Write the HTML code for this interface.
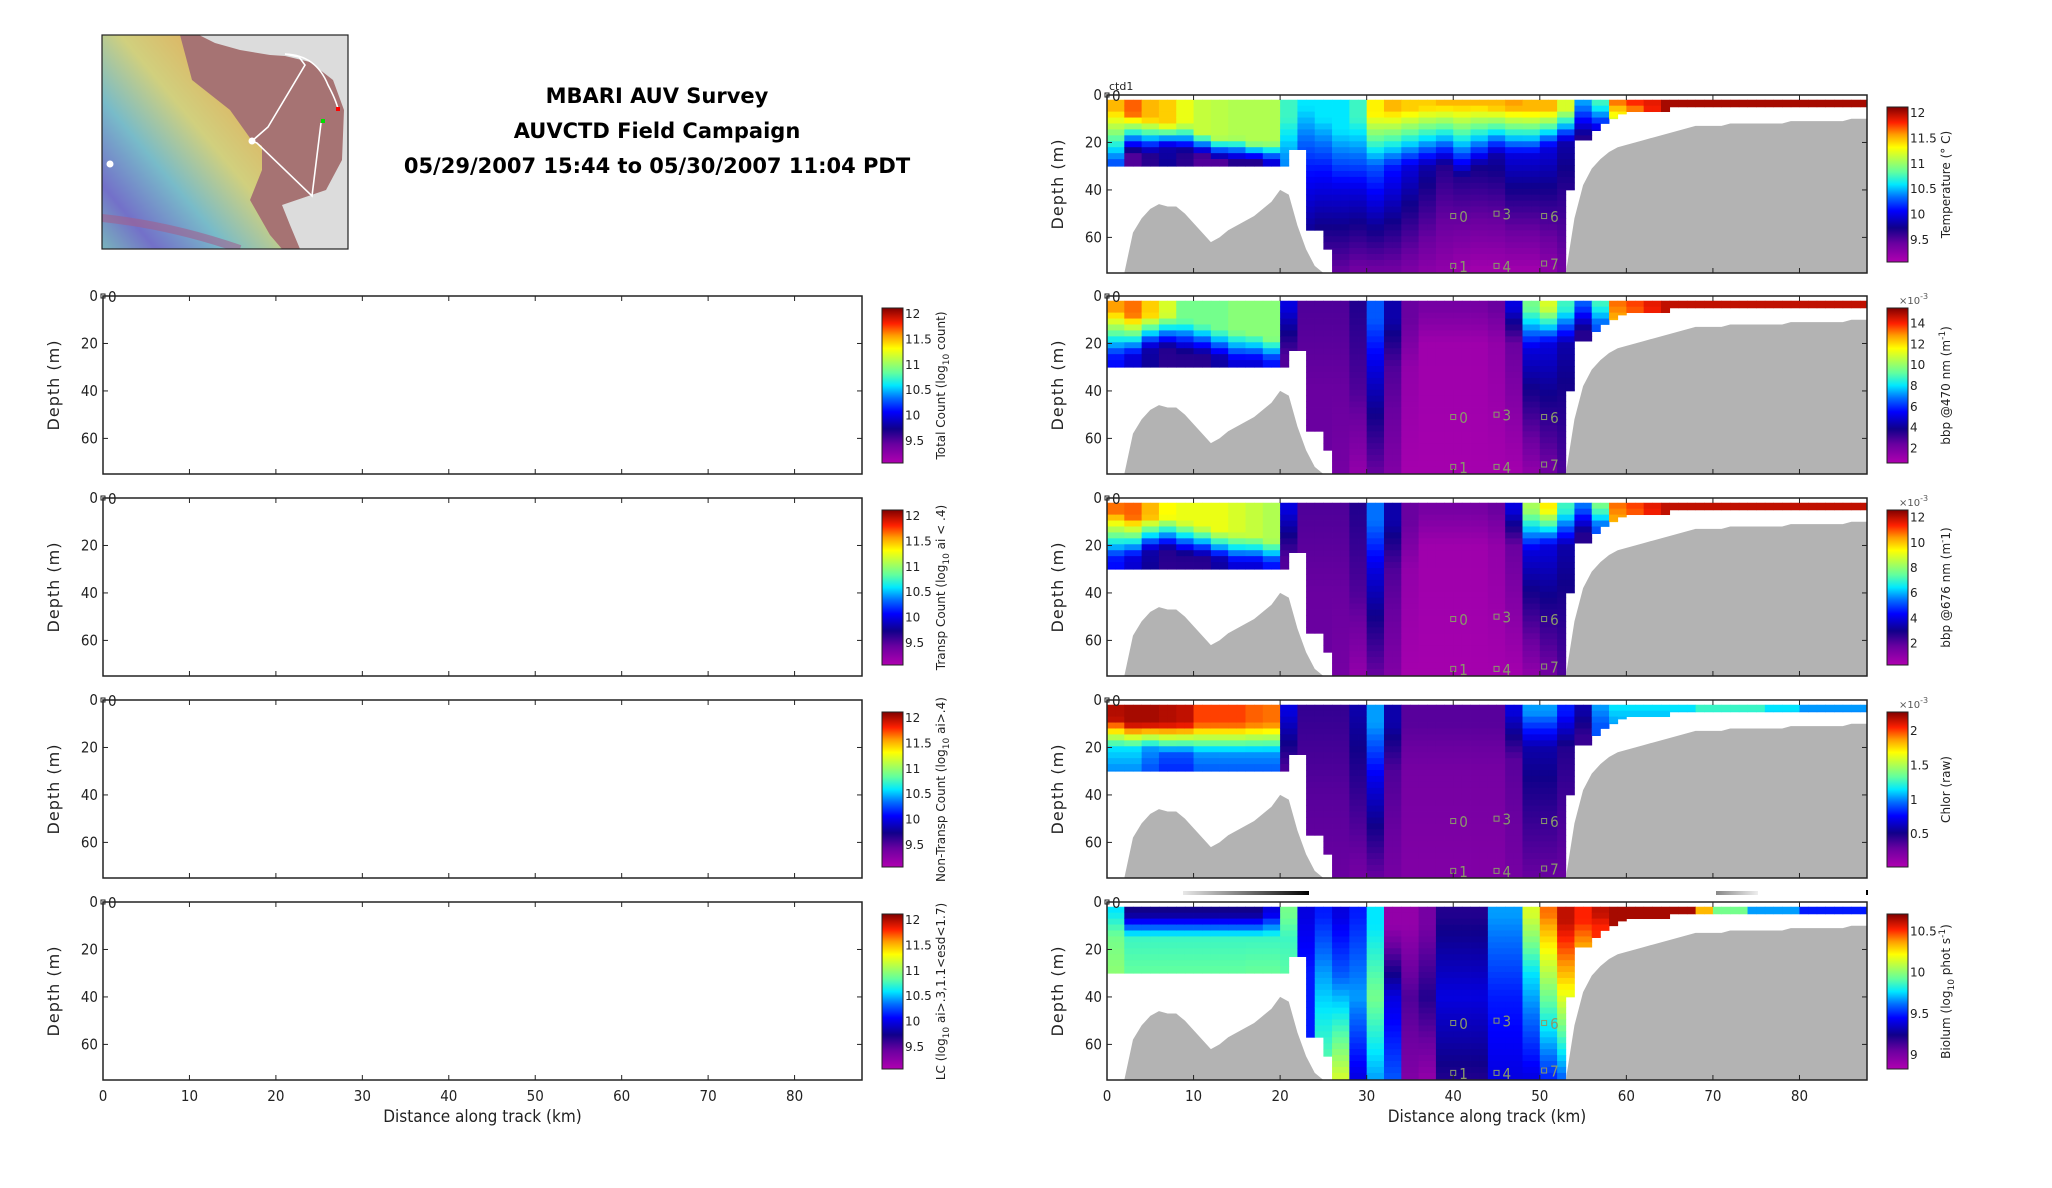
<!DOCTYPE html>
<html><head><meta charset="utf-8"><style>
body{margin:0;background:#fff}
svg{display:block}
text{font-family:"DejaVu Sans Condensed","Liberation Sans Narrow","DejaVu Sans",sans-serif;fill:#222}
.t{font-family:"DejaVu Sans","Liberation Sans",sans-serif;font-weight:bold;font-size:21px;fill:#000}
.tick{font-size:15px}
.lab{font-family:"DejaVu Sans","Liberation Sans",sans-serif;font-size:16px;letter-spacing:1px}
.cb{font-family:"DejaVu Sans","Liberation Sans",sans-serif;font-size:12px}
.cbl{font-family:"DejaVu Sans","Liberation Sans",sans-serif;font-size:12px}
</style></head><body>
<svg id="fig" width="2052" height="1188" viewBox="0 0 2052 1188" xmlns="http://www.w3.org/2000/svg">
<defs>
<linearGradient id="jetg" x1="0" y1="1" x2="0" y2="0">
<stop offset="0" stop-color="#b000b0"/><stop offset="0.12" stop-color="#6a00a0"/><stop offset="0.22" stop-color="#10008a"/><stop offset="0.33" stop-color="#0000ff"/><stop offset="0.42" stop-color="#0070ff"/><stop offset="0.5" stop-color="#00e8ff"/><stop offset="0.58" stop-color="#60ffa0"/><stop offset="0.66" stop-color="#b0ff50"/><stop offset="0.74" stop-color="#ffff00"/><stop offset="0.82" stop-color="#ffa000"/><stop offset="0.9" stop-color="#ff2000"/><stop offset="1" stop-color="#800000"/>
</linearGradient>
<linearGradient id="mapg" x1="1" y1="0" x2="0" y2="1">
<stop offset="0" stop-color="#d86a5a"/><stop offset="0.25" stop-color="#e8c060"/><stop offset="0.45" stop-color="#d8e080"/><stop offset="0.65" stop-color="#70c8d8"/><stop offset="0.85" stop-color="#6a70d8"/><stop offset="1" stop-color="#70c0c8"/>
</linearGradient>
<linearGradient id="gs1" x1="0" x2="1"><stop offset="0" stop-color="#e8e8e8"/><stop offset="1" stop-color="#000"/></linearGradient>
<linearGradient id="gs2" x1="0" x2="1"><stop offset="0" stop-color="#888"/><stop offset="1" stop-color="#eee"/></linearGradient>
<clipPath id="mapclip"><rect x="102" y="35" width="246" height="214"/></clipPath>
</defs>

<g clip-path="url(#mapclip)">
<rect x="102" y="35" width="246" height="214" fill="#a67373"/>
<polygon points="102,35 180,35 192,80 230,110 250,138 262,146 262,170 250,200 270,235 282,249 102,249" fill="url(#mapg)" opacity="0.85"/>
<path d="M102,218 Q170,225 240,249" stroke="#a06090" stroke-width="8" fill="none" opacity="0.6"/>
<polygon points="199,35 348,35 348,249 300,249 290,225 282,205 326,190 342,160 344,110 333,80 310,62 285,56 270,55 240,50 215,43" fill="#dcdcdc"/>
<polyline points="285,54 299,57 305,65 268,127 252,141 257,143 312,196 321,123" fill="none" stroke="#fff" stroke-width="1.6"/>
<path d="M285,54 Q316,55 328,85 Q336,100 338,109" fill="none" stroke="#fff" stroke-width="1.6"/>
<circle cx="252" cy="141" r="3.5" fill="#fff"/><circle cx="110" cy="164" r="3.5" fill="#fff"/>
<rect x="336" y="107" width="4" height="4" fill="#f00"/><rect x="321" y="119" width="4" height="4" fill="#0d0"/>
</g>
<rect x="102" y="35" width="246" height="214" fill="none" stroke="#222" stroke-width="1.2"/>

<text class="t" x="657" y="103" text-anchor="middle">MBARI AUV Survey</text>
<text class="t" x="657" y="138" text-anchor="middle">AUVCTD Field Campaign</text>
<text class="t" x="657" y="173" text-anchor="middle">05/29/2007 15:44 to 05/30/2007 11:04 PDT</text>
<g id="panels"></g>
</svg>
<script>
// ---- data ----
const xTicks=[0,10,20,30,40,50,60,70,80];
const yTicks=[0,20,40,60];
const kmCols=[...Array(88).keys()];
const dataBottom=[30,30,30,30,30,30,30,30,30,30,30,30,30,30,30,30,30,30,30,30,30,23,23,57,57,65,
75,75,75,75,75,75,75,75,75,75,75,75,75,75,75,75,75,75,75,75,75,75,75,75,75,75,75,
40,19,19,15,12,10,8,7,7,7,7,7,5,5,5,5,5,5,5,5,5,5,5,5,5,5,5,5,5,5,5,5,5,5,5];
const bathy=[75,75,75,58,52,48,46,47,47,50,54,58,62,60,57,55,53,51,48,45,40,42,55,65,72,75,
75,75,75,75,75,75,75,75,75,75,75,75,75,75,75,75,75,75,75,75,75,75,75,75,75,75,75,
75,52,38,31,27,24,22,21,20,19,18,17,16,15,14,13,13,13,13,12,12,12,12,12,12,12,11,11,11,11,11,11,11,10,10,10];
const stationKm=[40,40,45,45,50.5,50.5];
const stationDepth=[51,72,50,72,51,71];
const stationLabel=["0","1","3","4","6","7"];
// profiles per 2-km column: [surface value, surface-layer depth, mid value, mid depth, value at 75 m] (normalized 0..1)
const tempProfile=[[.8,6,.4,28,.4],[.86,8,.15,25,.15],[.8,10,.2,25,.12],[.78,12,.25,22,.12],[.72,12,.2,24,.12],[.68,16,.15,26,.12],[.67,18,.15,28,.12],[.66,18,.2,28,.15],[.66,20,.2,28,.15],[.66,20,.3,28,.2],
[.55,10,.45,25,.3],[.5,5,.35,30,.15],[.5,10,.35,30,.12],[.5,15,.3,40,.12],[.55,10,.3,40,.1],[.75,8,.4,30,.1],[.8,6,.35,30,.1],[.78,6,.3,30,.08],[.78,5,.25,30,.06],[.8,4,.2,30,.05],
[.8,4,.2,35,.03],[.8,4,.22,30,.02],[.8,5,.25,25,.02],[.82,5,.3,25,.02],[.8,6,.3,25,.02],[.8,6,.3,22,.05],[.7,6,.25,20,.1],[.45,4,.2,18,.15],[.55,4,.3,14,.2],[.85,3,.7,10,.5],
[.9,3,.8,8,.8],[.92,3,.9,8,.9],[.97,5,.97,8,.97],[.97,5,.97,8,.97],[.97,5,.97,8,.97],[.97,5,.97,8,.97],[.97,5,.97,8,.97],[.97,5,.97,8,.97],[.97,5,.97,8,.97],[.97,5,.97,8,.97],
[.97,5,.97,8,.97],[.97,5,.97,8,.97],[.97,5,.97,8,.97],[.97,5,.97,8,.97]];
const bbp470Profile=[[.82,6,.35,25,.15],[.85,8,.3,25,.12],[.78,8,.25,22,.12],[.7,8,.2,22,.12],[.6,10,.2,24,.12],[.6,12,.2,25,.12],[.6,14,.25,26,.12],[.62,15,.3,27,.12],[.62,16,.3,27,.12],[.62,18,.35,27,.15],
[.3,5,.15,25,.12],[.15,5,.12,40,.12],[.15,5,.12,40,.12],[.15,5,.12,40,.1],[.2,5,.15,40,.05],[.4,10,.3,30,.12],[.25,10,.15,30,.08],[.12,10,.05,30,.02],[.1,5,.03,20,.02],[.1,5,.03,20,.02],
[.1,5,.03,20,.02],[.1,5,.03,20,.02],[.12,5,.05,20,.02],[.3,5,.12,20,.02],[.6,5,.3,22,.05],[.7,5,.3,20,.1],[.55,5,.25,20,.15],[.4,4,.2,15,.15],[.55,4,.4,12,.3],[.85,4,.8,10,.5],
[.88,4,.85,8,.8],[.92,4,.9,8,.9],[.95,5,.95,8,.95],[.95,5,.95,8,.95],[.95,5,.95,8,.95],[.95,5,.95,8,.95],[.95,5,.95,8,.95],[.95,5,.95,8,.95],[.95,5,.95,8,.95],[.95,5,.95,8,.95],
[.95,5,.95,8,.95],[.95,5,.95,8,.95],[.95,5,.95,8,.95],[.95,5,.95,8,.95]];
const bbp676Profile=[[.85,6,.35,25,.15],[.86,8,.3,25,.12],[.8,8,.25,22,.12],[.74,8,.2,22,.12],[.72,10,.2,24,.12],[.72,12,.2,25,.12],[.72,14,.25,26,.12],[.7,15,.3,27,.12],[.68,16,.3,27,.12],[.66,18,.35,27,.15],
[.3,5,.15,25,.12],[.15,5,.12,40,.12],[.15,5,.12,40,.12],[.15,5,.12,40,.1],[.2,5,.15,40,.05],[.42,10,.3,30,.12],[.25,10,.15,30,.08],[.12,10,.05,30,.02],[.1,5,.03,20,.02],[.1,5,.03,20,.02],
[.1,5,.03,20,.02],[.1,5,.03,20,.02],[.12,5,.05,20,.02],[.3,5,.12,20,.02],[.65,5,.3,22,.05],[.75,5,.3,20,.1],[.55,5,.25,20,.15],[.42,4,.2,15,.15],[.6,4,.4,12,.3],[.85,4,.8,10,.5],
[.88,4,.85,8,.8],[.92,4,.9,8,.9],[.95,5,.95,8,.95],[.95,5,.95,8,.95],[.95,5,.95,8,.95],[.95,5,.95,8,.95],[.95,5,.95,8,.95],[.95,5,.95,8,.95],[.95,5,.95,8,.95],[.95,5,.95,8,.95],
[.95,5,.95,8,.95],[.95,5,.95,8,.95],[.95,5,.95,8,.95],[.95,5,.95,8,.95]];
const chlorProfile=[[.96,8,.5,20,.15],[.97,10,.5,20,.15],[.97,10,.45,20,.12],[.96,10,.4,22,.12],[.95,10,.4,22,.12],[.88,10,.45,22,.12],[.88,10,.45,22,.12],[.88,10,.45,22,.12],[.86,10,.45,22,.12],[.85,10,.45,22,.12],
[.3,5,.15,30,.12],[.18,5,.14,40,.12],[.18,5,.14,40,.12],[.18,5,.14,40,.12],[.25,5,.18,40,.1],[.45,10,.3,35,.12],[.25,10,.15,30,.1],[.14,10,.1,30,.08],[.14,10,.1,30,.08],[.14,10,.1,30,.08],
[.14,10,.1,30,.08],[.14,10,.1,30,.08],[.14,10,.1,30,.08],[.3,5,.14,25,.1],[.45,5,.25,20,.12],[.45,5,.25,20,.12],[.35,5,.2,20,.12],[.25,5,.18,15,.12],[.45,3,.4,10,.35],[.5,3,.45,10,.4],
[.5,3,.45,10,.4],[.5,3,.45,10,.4],[.5,3,.45,10,.4],[.5,3,.45,10,.4],[.55,3,.5,10,.45],[.55,3,.5,10,.45],[.55,3,.5,10,.45],[.55,3,.5,10,.45],[.5,3,.45,10,.4],[.5,3,.45,10,.4],
[.45,3,.4,10,.4],[.45,3,.4,10,.4],[.45,3,.4,10,.4],[.45,3,.4,10,.4]];
const biolumProfile=[[.5,4,.6,15,.7],[.22,5,.55,15,.68],[.22,5,.55,15,.68],[.22,5,.55,15,.68],[.22,5,.55,15,.68],[.22,5,.55,15,.68],[.22,5,.55,15,.68],[.22,5,.55,15,.68],[.22,5,.55,15,.7],[.3,5,.55,15,.7],
[.6,5,.55,15,.65],[.3,5,.35,30,.35],[.35,5,.45,30,.6],[.3,5,.4,30,.7],[.35,5,.45,40,.3],[.5,10,.6,40,.45],[.05,10,.3,40,.4],[.05,10,.15,40,.08],[.1,10,.2,40,.05],[.2,5,.3,40,.2],
[.2,5,.3,40,.2],[.2,5,.3,40,.2],[.45,5,.35,40,.3],[.45,5,.35,40,.3],[.7,5,.5,30,.3],[.85,5,.7,25,.35],[.95,8,.8,30,.4],[.9,8,.8,20,.5],[.95,5,.9,10,.8],[.97,5,.97,8,.97],
[.97,5,.97,8,.97],[.97,5,.97,8,.97],[.97,5,.97,8,.97],[.97,5,.97,8,.97],[.8,5,.8,8,.8],[.6,5,.6,8,.6],[.6,5,.6,8,.6],[.45,5,.45,8,.45],[.45,5,.45,8,.45],[.45,5,.45,8,.45],
[.35,5,.35,8,.35],[.35,5,.35,8,.35],[.35,5,.35,8,.35],[.35,5,.35,8,.35]];
const tempCbTicks=[12,11.5,11,10.5,10,9.5];
const bbp470CbTicks=[14,12,10,8,6,4,2];
const bbp676CbTicks=[12,10,8,6,4,2];
const chlorCbTicks=[2,1.5,1,0.5];
const biolumCbTicks=[10.5,10,9.5,9];

// ---- drawing ----
const NS="http://www.w3.org/2000/svg";
const root=document.getElementById('panels');
function mk(tag,attrs,parent){const e=document.createElementNS(NS,tag);for(const k in attrs)e.setAttribute(k,attrs[k]);(parent||root).appendChild(e);return e;}
const stops=[[0,[176,0,176]],[.12,[106,0,160]],[.22,[16,0,138]],[.33,[0,0,255]],[.42,[0,112,255]],[.5,[0,232,255]],[.58,[96,255,160]],[.66,[176,255,80]],[.74,[255,255,0]],[.82,[255,160,0]],[.9,[255,32,0]],[1,[128,0,0]]];
function jet(t){t=Math.max(0,Math.min(1,t));for(let i=1;i<stops.length;i++){if(t<=stops[i][0]){const a=stops[i-1],b=stops[i];const f=(t-a[0])/(b[0]-a[0]);const c=a[1].map((v,j)=>Math.round(v+(b[1][j]-v)*f));return `rgb(${c[0]},${c[1]},${c[2]})`;}}return 'rgb(128,0,0)';}
const XMAX=87.8,DMAX=75,H=178;
const LEFT={x0:103,x1:862,cb:882},RIGHT={x0:1107,x1:1867,cb:1887};
function xs(side,km){return side.x0+km/XMAX*(side.x1-side.x0);}
function ys(top,d){return top+d/DMAX*H;}
function profVal(p,d){const[v0,d1,v1,d2,v2]=p;if(d<=d1)return v0;if(d<=d2)return v0+(v1-v0)*(d-d1)/(d2-d1);return v1+(v2-v1)*(d-d2)/(DMAX-d2);}

function axes(side,top,name){
  const g=mk('g',{});
  
  
  return g;
}
function frame(g,side,top,showX){
  const r=mk('rect',{x:side.x0,y:top,width:side.x1-side.x0,height:H,fill:'none',stroke:'#222','stroke-width':1.5},g);
  
  xTicks.forEach(v=>{const x=xs(side,v);
    mk('line',{x1:x,x2:x,y1:top+H,y2:top+H-5,stroke:'#222'},g);
    mk('line',{x1:x,x2:x,y1:top,y2:top+5,stroke:'#222'},g);
    if(showX){const t=mk('text',{x:x,y:top+H+21,'text-anchor':'middle',class:'tick'},g);t.textContent=v;
      }
  });
  yTicks.forEach(v=>{const y=ys(top,v);
    mk('line',{x1:side.x0,x2:side.x0+5,y1:y,y2:y,stroke:'#222'},g);
    mk('line',{x1:side.x1,x2:side.x1-5,y1:y,y2:y,stroke:'#222'},g);
    const t=mk('text',{x:side.x0-5,y:y+5,'text-anchor':'end',class:'tick'},g);t.textContent=v;
    
  });
  mk('rect',{x:side.x0-2,y:top-2,width:4,height:4,fill:'none',stroke:'#222','stroke-width':1},g);
  const z=mk('text',{x:side.x0+5,y:top+6,class:'tick'},g);z.textContent='0';
  const yl=mk('text',{x:side.x0-44,y:top+H/2,'text-anchor':'middle',class:'lab',transform:`rotate(-90 ${side.x0-44} ${top+H/2})`},g);yl.textContent='Depth (m)';
  
  if(showX){const xl=mk('text',{x:(side.x0+side.x1)/2,y:top+H+42,'text-anchor':'middle',class:'tick',style:'font-size:17px'},g);xl.textContent='Distance along track (km)';
    }
}
function colorbar(side,top,ticks,vTop,vBot,label,exp,name){
  const g=mk('g',{});
  
  
  const y0=top+12,h=155;
  mk('rect',{x:side.cb,y:y0,width:21,height:h,fill:'url(#jetg)',stroke:'#222','stroke-width':1},g);
  ticks.forEach(v=>{const y=y0+(vTop-v)/(vTop-vBot)*h;
    const t=mk('text',{x:side.cb+23,y:y+4,class:'cb'},g);t.textContent=v;
    });
  if(exp){const e=mk('text',{x:side.cb+12,y:y0-4,class:'cb',style:'font-size:10px;fill:#555'},g);e.innerHTML='×10<tspan dy="-5" style="font-size:8px">-3</tspan>';}
  const lx=side.cb+63,ly=y0+h/2;
  const t=mk('text',{x:lx,y:ly,'text-anchor':'middle',class:'cbl',transform:`rotate(-90 ${lx} ${ly})`},g);t.innerHTML=label;
  
}
function heat(top,prof,name){
  const side=RIGHT;
  const g=mk('g',{});
  
  
  kmCols.forEach(k=>{
    const p=prof[Math.floor(k/2)];const bot=dataBottom[k];
    const x=xs(side,k),w=Math.min(xs(side,k+1),side.x1)-x+0.4;
    for(let d=2;d<bot;d+=2.5){const d2=Math.min(d+2.5,bot);
      const c=mk('rect',{x:x,y:ys(top,d),width:w,height:ys(top,d2)-ys(top,d)+0.4,fill:jet(profVal(p,(d+d2)/2))},g);
      
    }
  });
  let pts=`${xs(side,0)},${ys(top,DMAX)} `+bathy.map((b,i)=>`${xs(side,Math.min(i,XMAX))},${ys(top,b)}`).join(' ')+` ${xs(side,XMAX)},${ys(top,DMAX)}`;
  const bg=mk('polygon',{points:pts,fill:'#b3b3b3'},g);
  
  stationKm.forEach((km,i)=>{const x=xs(side,km),y=ys(top,stationDepth[i]);
    const s=mk('rect',{x:x-2.5,y:y-2.5,width:5,height:5,fill:'none',stroke:'#8a9a6a','stroke-width':1},g);
    
    const t=mk('text',{x:x+6,y:y+6,class:'tick',style:'fill:#8a9a6a'},g);t.textContent=stationLabel[i];});
}
const tops=[296,498,700,902];
const leftLabels=['Total Count (log<tspan dy="4" style="font-size:9px">10</tspan><tspan dy="-4"> count)</tspan>','Transp Count (log<tspan dy="4" style="font-size:9px">10</tspan><tspan dy="-4"> ai &lt; .4)</tspan>','Non-Transp Count (log<tspan dy="4" style="font-size:9px">10</tspan><tspan dy="-4"> ai&gt;.4)</tspan>','LC (log<tspan dy="4" style="font-size:9px">10</tspan><tspan dy="-4"> ai&gt;.3,1.1&lt;esd&lt;1.7)</tspan>'];
const leftNames=['total-count-panel','transp-count-panel','nontransp-count-panel','lc-panel'];
tops.forEach((t,i)=>{const g=axes(LEFT,t,leftNames[i]);frame(g,LEFT,t,i===3);
  colorbar(LEFT,t,tempCbTicks,12.118,9.067,leftLabels[i],false,leftNames[i]+'-colorbar');});
const rTops=[95,296,498,700,902];
heat(95,tempProfile,'temperature-heatmap');
heat(296,bbp470Profile,'bbp470-heatmap');
heat(498,bbp676Profile,'bbp676-heatmap');
heat(700,chlorProfile,'chlor-heatmap');
heat(902,biolumProfile,'biolum-heatmap');
const rNames=['temperature-panel','bbp470-panel','bbp676-panel','chlor-panel','biolum-panel'];
rTops.forEach((t,i)=>{const g=axes(RIGHT,t,rNames[i]);frame(g,RIGHT,t,i===4);});
colorbar(RIGHT,95,tempCbTicks,12.118,9.067,'Temperature (° C)',false,'temperature-colorbar');
colorbar(RIGHT,296,bbp470CbTicks,15.5,0.6,'bbp @470 nm (m<tspan dy="-5" style="font-size:9px">-1</tspan><tspan dy="5">)</tspan>',true,'bbp470-colorbar');
colorbar(RIGHT,498,bbp676CbTicks,12.6,0.3,'bbp @676 nm (m<tspan dy="-5" style="font-size:9px">-</tspan><tspan dy="5">1)</tspan>',true,'bbp676-colorbar');
colorbar(RIGHT,700,chlorCbTicks,2.28,0.02,'Chlor (raw)',true,'chlor-colorbar');
colorbar(RIGHT,902,biolumCbTicks,10.71,8.83,'Biolum (log<tspan dy="4" style="font-size:9px">10</tspan><tspan dy="-4"> phot s</tspan><tspan dy="-5" style="font-size:9px">-1</tspan><tspan dy="5">)</tspan>',false,'biolum-colorbar');
const c1=mk('text',{x:1109,y:90,class:'cb',style:'font-size:11px'});c1.textContent='ctd1';

const gs1=mk('rect',{x:1183,y:891,width:126,height:4,fill:'url(#gs1)'});

const gs2=mk('rect',{x:1716,y:891,width:42,height:4,fill:'url(#gs2)'});

mk('rect',{x:1866,y:890,width:2,height:5,fill:'#000'});
</script>
</body></html>
